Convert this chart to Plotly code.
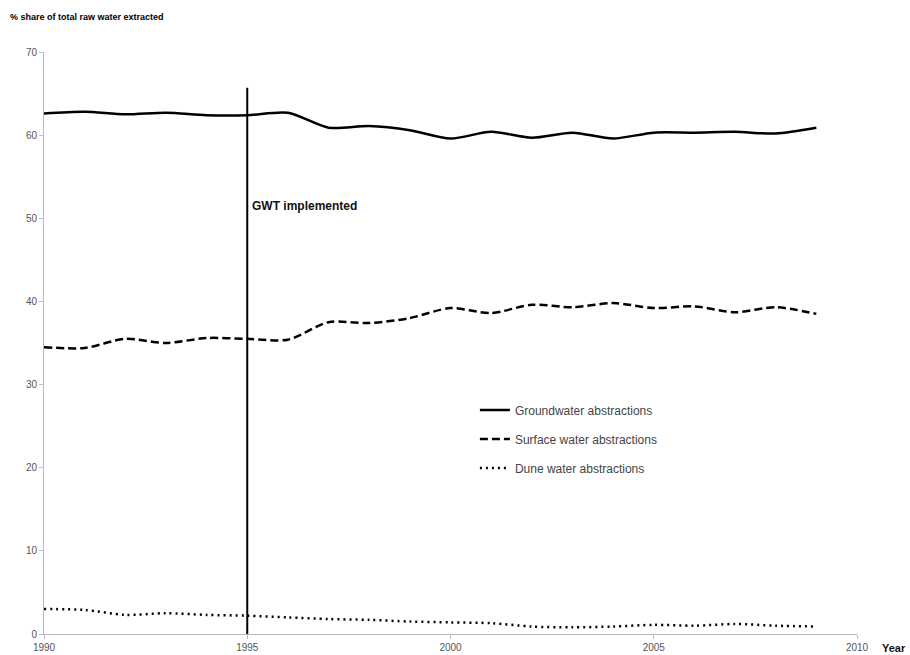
import plotly.graph_objects as go

years = list(range(1990, 2010))
groundwater = [62.6, 62.8, 62.5, 62.7, 62.4, 62.4, 62.7, 60.9, 61.1, 60.6,
               59.6, 60.4, 59.7, 60.3, 59.6, 60.3, 60.3, 60.4, 60.2, 60.9]
surface = [34.5, 34.4, 35.5, 35.0, 35.6, 35.5, 35.4, 37.5, 37.4, 38.0,
           39.2, 38.6, 39.6, 39.3, 39.8, 39.2, 39.4, 38.7, 39.3, 38.5]
dune = [3.0, 2.9, 2.3, 2.5, 2.3, 2.2, 2.0, 1.8, 1.7, 1.5,
        1.4, 1.3, 0.9, 0.8, 0.9, 1.1, 1.0, 1.2, 1.0, 0.9]
xticks = [1990, 1995, 2000, 2005, 2010]
yticks = [0, 10, 20, 30, 40, 50, 60, 70]
gwt_year = 1995
gwt_top = 65.7
gwt_label_y = 51.5

font = "Liberation Sans, Arial, sans-serif"

fig = go.Figure()
fig.add_trace(go.Scatter(x=years, y=groundwater, mode="lines", name="Groundwater abstractions",
                         legendgroup="g", line=dict(color="black", width=2.5, shape="spline", smoothing=0.8)))
fig.add_trace(go.Scatter(x=years, y=surface, mode="lines", name="Surface water abstractions",
                         legendgroup="s", line=dict(color="black", width=2.5, dash="8px,4px", shape="spline", smoothing=0.8)))
fig.add_trace(go.Scatter(x=years, y=dune, mode="lines", name="Dune water abstractions",
                         legendgroup="d", line=dict(color="black", width=2.5, dash="2px,4px", shape="spline", smoothing=0.8)))

fig.add_shape(type="line", x0=gwt_year, x1=gwt_year, y0=0, y1=gwt_top,
              xref="x", yref="y", line=dict(color="black", width=2))
fig.add_annotation(x=gwt_year, y=gwt_label_y, xref="x", yref="y", text="<b>GWT implemented</b>",
                   showarrow=False, xanchor="left", xshift=3, font=dict(size=12, color="#111", family=font))
fig.add_annotation(x=0, y=1, xref="paper", yref="paper", yshift=28, xshift=-36,
                   text="<b>% share of total raw water extracted</b>", showarrow=False,
                   xanchor="left", yanchor="bottom", font=dict(size=9, color="black", family=font))
fig.add_annotation(x=1, y=0, xref="paper", yref="paper", xshift=23, yshift=-14,
                   text="<b>Year</b>", showarrow=False, xanchor="left", yanchor="middle",
                   font=dict(size=11, color="#111", family=font))

fig.update_layout(
    width=910, height=655,
    margin=dict(l=44, r=53, t=52, b=21, autoexpand=False),
    paper_bgcolor="white", plot_bgcolor="white",
    font=dict(family=font, size=10, color="#555"),
    legend=dict(x=0.53, y=0.41, xanchor="left", yanchor="top", traceorder="grouped",
                tracegroupgap=10, itemwidth=30, font=dict(size=12, color="#444"),
                bgcolor="rgba(0,0,0,0)"),
    showlegend=True,
)
fig.update_xaxes(range=[1990, 2010], tickvals=xticks, showgrid=False, zeroline=False,
                 showline=True, linecolor="#bbb", linewidth=1, ticks="outside", ticklen=4,
                 tickcolor="#bbb", tickfont=dict(size=10, color="#555"), automargin=False)
fig.update_yaxes(range=[0, 70], tickvals=yticks, showgrid=False, zeroline=False,
                 showline=True, linecolor="#bbb", linewidth=1, ticks="outside", ticklen=4,
                 tickcolor="#bbb", tickfont=dict(size=10, color="#555"), automargin=False)

fig.write_html("out.html", config={"displayModeBar": False},
               post_script="document.body.style.margin='0';document.body.style.overflow='hidden';")
